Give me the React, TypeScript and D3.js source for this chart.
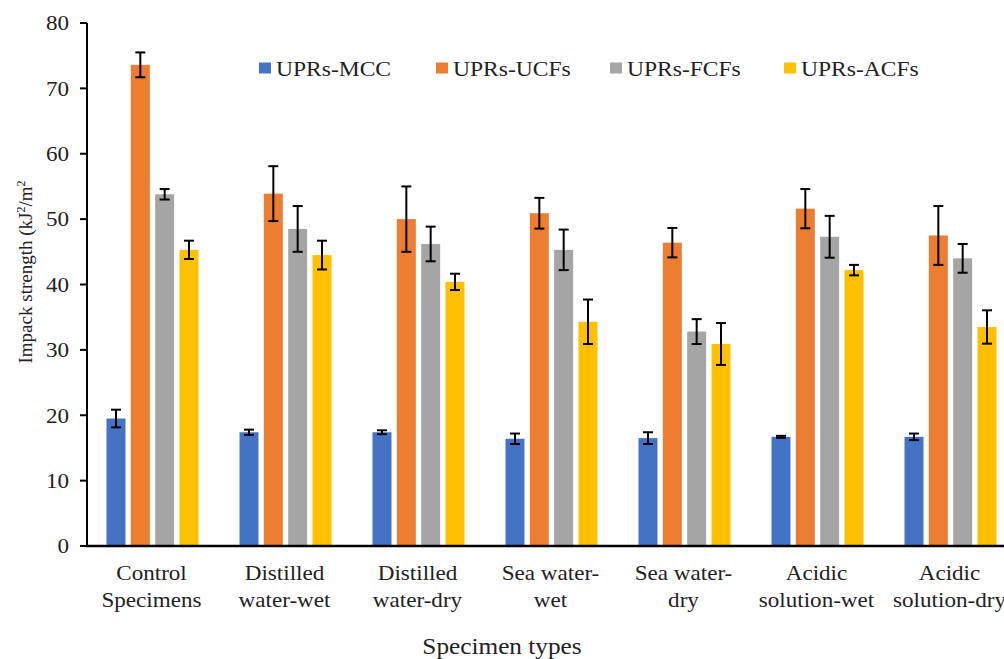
import React from "react";
import * as d3 from "d3";

const WIDTH = 1004;
const HEIGHT = 659;
const Margin = { top: 23, left: 86, bottom: 546 };

const categories = [
  ["Control", "Specimens"],
  ["Distilled", "water-wet"],
  ["Distilled", "water-dry"],
  ["Sea water-", "wet"],
  ["Sea water-", "dry"],
  ["Acidic", "solution-wet"],
  ["Acidic", "solution-dry"],
];
const series = ["UPRs-MCC", "UPRs-UCFs", "UPRs-FCFs", "UPRs-ACFs"];
const colors = ["#4472C4", "#ED7D31", "#A5A5A5", "#FFC000"];

// mean values per series (one per category)
const mcc = [19.5, 17.4, 17.4, 16.4, 16.5, 16.7, 16.7];
const ucf = [73.6, 53.9, 50.0, 50.9, 46.4, 51.6, 47.5];
const fcf = [53.8, 48.5, 46.2, 45.3, 32.8, 47.3, 44.0];
const acf = [45.3, 44.5, 40.4, 34.3, 30.9, 42.2, 33.5];
// error (±)
const mccErr = [1.35, 0.4, 0.3, 0.8, 0.9, 0.15, 0.5];
const ucfErr = [1.9, 4.2, 5.0, 2.35, 2.25, 3.0, 4.5];
const fcfErr = [0.8, 3.5, 2.65, 3.1, 1.9, 3.2, 2.2];
const acfErr = [1.4, 2.2, 1.25, 3.4, 3.2, 0.8, 2.55];

const values = [mcc, ucf, fcf, acf];
const errors = [mccErr, ucfErr, fcfErr, acfErr];
const yTicks = [0, 10, 20, 30, 40, 50, 60, 70, 80];

// the source picture is a bit stretched sideways, so are the glyphs
const SX = 1.1;
const font = { fontFamily: "Liberation Serif" };

const App = () => {
  const y = d3.scaleLinear().domain([0, 80]).range([Margin.bottom, Margin.top]);
  const x = d3
    .scaleBand<number>()
    .domain(d3.range(categories.length))
    .range([Margin.left, Margin.left + 133 * categories.length])
    .padding(0);
  const inner = d3
    .scaleBand<number>()
    .domain(d3.range(series.length))
    .range([-46, 46])
    .paddingInner(0.22)
    .paddingOuter(0);

  const legendX = [259, 436, 610, 784];

  return (
    <svg
      width={WIDTH}
      height={HEIGHT}
      style={{ position: "absolute", left: 0, top: 0, background: "#fff" }}
    >
      {/* bars */}
      {categories.map((c, ci) => {
        const cx = (x(ci) as number) + x.bandwidth() / 2;
        return (
          <g key={ci} transform={`translate(${cx},0)`}>
            {series.map((s, si) => {
              const v = values[si][ci];
              const e = errors[si][ci];
              const bx = inner(si) as number;
              const bw = inner.bandwidth();
              const mx = bx + bw / 2;
              return (
                <g key={s}>
                  <rect
                    x={bx}
                    y={y(v)}
                    width={bw}
                    height={y(0) - y(v)}
                    fill={colors[si]}
                  />
                  <g stroke="#000" strokeWidth={2}>
                    <line x1={mx} x2={mx} y1={y(v + e)} y2={y(v - e)} />
                    <line x1={mx - 5} x2={mx + 5} y1={y(v + e)} y2={y(v + e)} />
                    <line x1={mx - 5} x2={mx + 5} y1={y(v - e)} y2={y(v - e)} />
                  </g>
                </g>
              );
            })}
            <text
              transform={`translate(-1,0) scale(${SX},1)`}
              textAnchor="middle"
              fontSize={21}
              fill="#222"
              style={font}
            >
              <tspan x={0} y={580}>{c[0]}</tspan>
              <tspan x={0} y={607}>{c[1]}</tspan>
            </text>
          </g>
        );
      })}

      {/* y axis */}
      <line x1={Margin.left + 1} x2={Margin.left + 1} y1={y(80)} y2={y(0)} stroke="#000" strokeWidth={2} />
      {yTicks.map((t) => (
        <g key={t} transform={`translate(0,${y(t)})`}>
          <line x1={Margin.left - 6} x2={Margin.left + 1} stroke="#000" strokeWidth={2} />
          <text
            transform={`translate(69,0) scale(${SX},1)`}
            dy="0.35em"
            textAnchor="end"
            fontSize={21}
            fill="#222"
            style={font}
          >
            {t}
          </text>
        </g>
      ))}
      {/* x axis */}
      <line x1={Margin.left} x2={WIDTH} y1={y(0)} y2={y(0)} stroke="#000" strokeWidth={2.5} />

      {/* axis titles */}
      <text
        transform={`translate(32,272) rotate(-90)`}
        textAnchor="middle"
        fontSize={19}
        fill="#222"
        style={font}
      >
        Impack strength (kJ
        <tspan dy={-7} fontSize={12}>2</tspan>
        <tspan dy={7}>/m</tspan>
        <tspan dy={-7} fontSize={12}>2</tspan>
      </text>
      <text
        transform={`translate(502,654) scale(${SX},1)`}
        textAnchor="middle"
        fontSize={23}
        fill="#222"
        style={font}
      >
        Specimen types
      </text>

      {/* legend */}
      {series.map((s, si) => (
        <g key={s} transform={`translate(${legendX[si]},0)`}>
          <rect x={0} y={62.5} width={12} height={11} fill={colors[si]} />
          <text
            transform={`translate(17,76) scale(1.07,1)`}
            fontSize={22}
            fill="#222"
            style={font}
          >
            {s}
          </text>
        </g>
      ))}
    </svg>
  );
};

export default App;
